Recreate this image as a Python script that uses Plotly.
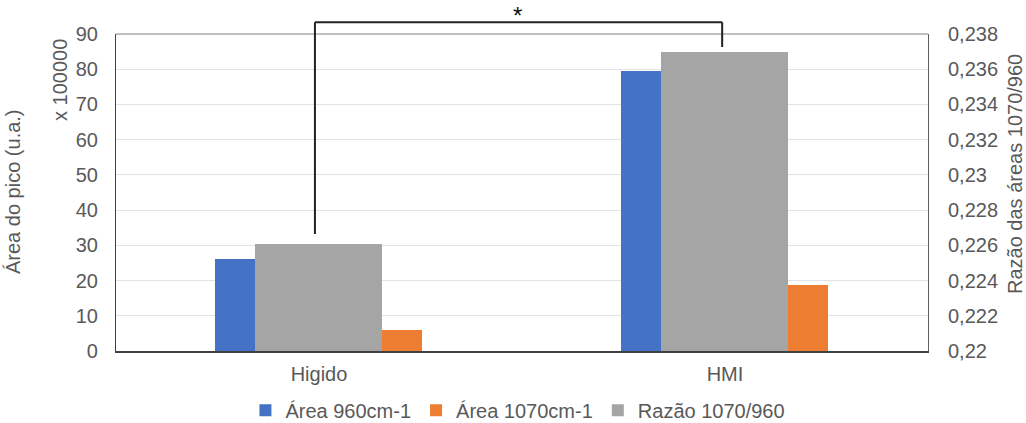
import plotly.graph_objects as go

categories = ["Higido", "HMI"]
area_960 = [26.1, 79.5]
area_1070 = [5.9, 18.8]
razao = [0.22608, 0.23698]
left_ticks = list(range(0, 91, 10))
right_ticks = [0.22, 0.222, 0.224, 0.226, 0.228, 0.23, 0.232, 0.234, 0.236, 0.238]
right_tick_text = ["0,22", "0,222", "0,224", "0,226", "0,228", "0,23", "0,232", "0,234", "0,236", "0,238"]

FONT = "Liberation Sans, Arial, sans-serif"
GREY = "#595959"
FS = 20

fig = go.Figure()
fig.add_trace(go.Bar(x=categories, y=area_960, name="Área 960cm-1",
                     marker=dict(color="#4472C4", line=dict(width=0)),
                     width=0.098, offset=-0.256, yaxis="y"))
fig.add_trace(go.Bar(x=categories, y=area_1070, name="Área 1070cm-1",
                     marker=dict(color="#ED7D31", line=dict(width=0)),
                     width=0.098, offset=0.156, yaxis="y"))
fig.add_trace(go.Bar(x=categories, y=[r - 0.22 for r in razao], base=0.22, name="Razão 1070/960",
                     marker=dict(color="#A5A5A5", line=dict(width=0)),
                     width=0.314, offset=-0.158, yaxis="y2"))

fig.update_layout(
    width=1026, height=423,
    margin=dict(l=116, r=98, t=34, b=72, autoexpand=False),
    paper_bgcolor="white", plot_bgcolor="white",
    font=dict(family=FONT, size=FS, color=GREY),
    barmode="overlay",
    bargap=0,
    xaxis=dict(type="category", range=[-0.5, 1.5], showgrid=False,
               showline=True, linecolor="#404040", linewidth=1.5,
               ticks="", ticklabelstandoff=4, tickfont=dict(size=FS, color=GREY)),
    yaxis=dict(range=[0, 90], tickvals=left_ticks, showgrid=True,
               gridcolor="#E3E3E3", gridwidth=1, zeroline=False,
               showline=True, linecolor="#404040", linewidth=1.2,
               ticks="", ticklabelstandoff=13,
               tickfont=dict(size=FS, color=GREY)),
    yaxis2=dict(range=[0.22, 0.238], tickvals=right_ticks, ticktext=right_tick_text,
                overlaying="y", side="right", showgrid=False, zeroline=False,
                showline=True, linecolor="#606060", linewidth=1,
                ticks="", ticklabelstandoff=15,
                tickfont=dict(size=FS, color=GREY)),
    legend=dict(orientation="h", x=0.495, xanchor="center", y=-0.125, yanchor="top",
                font=dict(size=FS, color=GREY), entrywidthmode="pixels",
                traceorder="normal", bgcolor="rgba(0,0,0,0)"),
    showlegend=True,
)

# top border of plot area
fig.add_shape(type="line", xref="paper", yref="paper", x0=0, x1=1, y0=1, y1=1,
              line=dict(color="#808080", width=1.2))

# significance bracket (y in paper units: plot height 317 px)
H = 317.0
fig.add_shape(type="line", xref="x", yref="paper", x0=-0.01, x1=-0.01,
              y0=(351 - 234) / H, y1=(351 - 22.3) / H,
              line=dict(color="#222222", width=2))
fig.add_shape(type="line", xref="x", yref="paper", x0=-0.01, x1=0.993,
              y0=(351 - 22.3) / H, y1=(351 - 22.3) / H,
              line=dict(color="#222222", width=2))
fig.add_shape(type="line", xref="x", yref="paper", x0=0.993, x1=0.993,
              y0=(351 - 22.3) / H, y1=(351 - 47) / H,
              line=dict(color="#222222", width=2))
fig.add_annotation(x=0.49, y=(351 - 16) / H, xref="x", yref="paper", text="*", showarrow=False,
                   font=dict(size=24, color="#111111", family=FONT), yanchor="middle")

# axis titles
fig.add_annotation(xref="paper", yref="paper", x=0, xshift=-103, y=(351 - 192) / H,
                   xanchor="center", yanchor="middle",
                   text="Área do pico (u.a.)", textangle=-90, showarrow=False,
                   font=dict(size=FS, color=GREY))
fig.add_annotation(xref="paper", yref="paper", x=0, xshift=-56, y=(351 - 80) / H,
                   xanchor="center", yanchor="middle",
                   text="x 100000", textangle=-90, showarrow=False,
                   font=dict(size=FS, color=GREY))
fig.add_annotation(xref="paper", yref="paper", x=1, xshift=87, y=(351 - 174) / H,
                   xanchor="center", yanchor="middle",
                   text="Razão das áreas 1070/960", textangle=-90, showarrow=False,
                   font=dict(size=FS, color=GREY))

fig.write_html("out.html")
